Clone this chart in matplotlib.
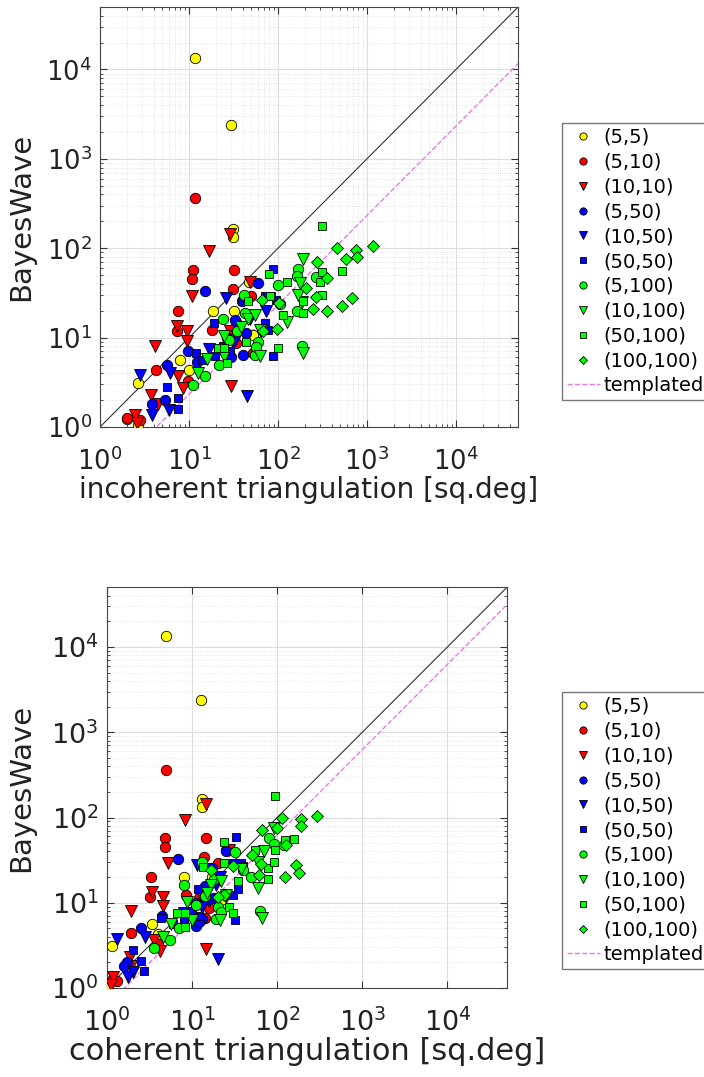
import numpy as np
import matplotlib
matplotlib.use("Agg")
import matplotlib.pyplot as plt

# series labels (SNR pairs) and marker styles
labels = ['(5,5)', '(5,10)', '(10,10)', '(5,50)', '(10,50)', '(50,50)',
          '(5,100)', '(10,100)', '(50,100)', '(100,100)']
colors = ['#ffff00', '#ff0000', '#ff0000', '#0000ff', '#0000ff', '#0000ff',
          '#00ff00', '#00ff00', '#00ff00', '#00ff00']
markers = ['o', 'o', 'v', 'o', 'v', 's', 'o', 'v', 's', 'D']

# BayesWave area, incoherent and coherent triangulation areas [sq.deg]
bw_55 = [13500, 2400, 163, 133, 20, 20, 42, 5.6, 4.3, 3.1, 1.23, 1.05, 10.8, 11.7]
inc_55 = [11.7, 29.6, 31, 31, 18.6, 32, 47, 7.9, 10, 2.7, 2.0, 2.65, 52, 33]
coh_55 = [5.0, 12.6, 13.2, 13.2, 8.0, 17, 25, 3.4, 4.0, 1.14, 1.2, 1.03, 22, 15]

bw_510 = [363, 57, 45, 57, 34.7, 20, 11.8, 12.3, 29, 14.9, 4.4, 3.3, 6.7, 1.25, 1.2, 11.3, 8.7]
inc_510 = [11.7, 11, 10.7, 32, 31.5, 7.5, 7.4, 18, 50, 34, 4.3, 9.7, 53, 2.0, 2.8, 29, 34]
coh_510 = [5.0, 4.8, 4.8, 14.4, 13.7, 3.3, 3.2, 8.5, 20, 14, 1.9, 4.0, 14, 1.14, 1.3, 12, 16]

bw_1010 = [144, 93, 29, 42, 13.4, 11.8, 9.1, 8.0, 3.7, 2.7, 2.3, 1.8, 2.9, 1.36, 1.1, 11.8]
inc_1010 = [29, 17, 10.7, 49, 7.3, 9.4, 9.4, 4.1, 7.6, 8.5, 3.7, 4.5, 30, 2.5, 2.6, 29]
coh_1010 = [14.4, 8.2, 5.2, 27.5, 3.4, 4.6, 4.5, 1.9, 3.6, 4.2, 1.86, 1.9, 14.4, 1.19, 1.12, 13]

bw_550 = [33, 41, 7.0, 5.0, 2.0, 1.8, 25.6, 15.9, 11.3, 6.4, 5.4, 7.5, 6.0, 10]
inc_550 = [15, 60, 9.7, 5.6, 5.4, 3.8, 39, 33, 44, 41, 12.2, 22, 30, 27]
coh_550 = [6.8, 25, 4.4, 2.5, 1.7, 1.6, 17, 14, 18, 13, 11.2, 9, 12, 11]

bw_1050 = [28, 20, 3.8, 4.0, 1.55, 1.36, 2.2, 7.5, 10.5, 9, 16]
inc_1050 = [26, 73, 2.8, 6.1, 5.9, 3.8, 45, 17, 35, 32, 48]
coh_1050 = [11.4, 21, 1.3, 2.8, 2.0, 1.78, 20, 8, 16, 13, 19]

bw_5050 = [59, 29, 29, 14.6, 26, 6.7, 2.8, 2.1, 1.6, 6.3, 7.0, 12.3, 14.6, 5.6, 6.2, 26.7, 8, 12.5]
inc_5050 = [89, 71, 84, 19, 39, 12, 5.6, 7.5, 7.5, 89, 29, 78, 71, 14, 19.6, 96, 24, 35]
coh_5050 = [33, 30, 38, 11.7, 16, 4.3, 2.0, 2.5, 2.7, 32, 12, 30.6, 34.5, 6, 8, 40, 10, 14]

bw_5100 = [39, 30, 16, 19, 8.9, 5.0, 3.7, 2.96, 58, 49, 20, 8.0, 6.4, 48, 24, 12, 7.8, 9.5]
inc_5100 = [100, 42, 24, 43, 60, 22, 15, 11.2, 170, 162, 162, 188, 55, 270, 106, 35, 57, 28]
coh_5100 = [31.5, 13, 8, 18, 20, 7.1, 5.5, 3.6, 80, 92, 49, 62, 19, 120, 40, 14, 22, 11]

bw_10100 = [75, 41, 25, 15, 16, 6.3, 6.7, 10.3, 5.7, 4.0, 11.8, 30, 12.3, 6.2, 13, 18]
inc_10100 = [192, 177, 185, 128, 46, 63, 192, 25, 16, 12.7, 65, 170, 63, 25, 38, 55]
coh_10100 = [92, 70, 37.6, 59, 16.7, 21, 67, 8.6, 5.7, 4.5, 25, 60, 25, 10, 15, 22]

bw_50100 = [178, 52, 42, 54, 56, 29, 26, 25.6, 30, 19, 18, 8.9, 7.6, 7.6, 5.2, 7.6, 42]
inc_50100 = [316, 79, 125, 310, 520, 81, 46, 193, 310, 193, 115, 44, 21.4, 25, 27, 100, 300]
coh_50100 = [94, 23.5, 55, 124, 158, 24, 13.4, 78, 92, 78, 34.5, 27, 6.6, 8.3, 8.2, 30, 95]

bw_100100 = [100, 95, 105, 75, 79, 71, 47, 36, 27.5, 22.5, 20, 21, 28.6, 12.5, 24.5, 26.7, 11.8]
inc_100100 = [457, 760, 1175, 575, 778, 277, 353, 205, 675, 527, 353, 245, 270, 98, 103, 66, 68]
coh_100100 = [113, 192, 297, 100, 192, 67, 126, 51, 165, 178, 123, 61, 65, 24, 16.7, 30, 20]

bw = [bw_55, bw_510, bw_1010, bw_550, bw_1050, bw_5050, bw_5100, bw_10100, bw_50100, bw_100100]
inc = [inc_55, inc_510, inc_1010, inc_550, inc_1050, inc_5050, inc_5100, inc_10100, inc_50100, inc_100100]
coh = [coh_55, coh_510, coh_1010, coh_550, coh_1050, coh_5050, coh_5100, coh_10100, coh_50100, coh_100100]

# templated bias factors for the dashed lines
templ_inc = 4.3
templ_coh = 1.6

lims = [1, 5e4]
msize = {'o': 7.5, 'v': 8, 's': 6, 'D': 6}

fig = plt.figure(figsize=(7.04, 10.77), dpi=100)


def panel(rect, xs, xlabel, factor, leg_y, tick_fs, lab_fs, ylab_x):
    ax = fig.add_axes(rect)
    line = np.array(lims)
    ax.plot(line, line, color='#333333', lw=0.8, zorder=2)
    for i in range(len(labels)):
        ax.plot(xs[i], bw[i], linestyle='none', marker=markers[i], color=colors[i],
                markeredgecolor='k', markeredgewidth=0.6, ms=msize[markers[i]],
                label=labels[i], zorder=3)
    ax.plot(line, line / factor, '--', color='#ee77ee', lw=1.0, zorder=2, label='templated')
    ax.set_xscale('log')
    ax.set_yscale('log')
    ax.set_xlim(lims)
    ax.set_ylim(lims)
    ax.set_xticks([1, 10, 100, 1000, 10000])
    ax.set_yticks([1, 10, 100, 1000, 10000])
    ax.grid(True, which='major', color='#dddddd', lw=0.8)
    ax.grid(True, which='minor', color='#dddddd', lw=0.6, ls=':')
    ax.set_axisbelow(True)
    ax.tick_params(which='both', direction='in', top=True, right=True,
                   labelsize=tick_fs, colors='#333333', labelcolor='#222222')
    ax.tick_params(which='major', length=5)
    ax.tick_params(which='minor', length=2.5)
    ax.tick_params(axis='x', which='major', pad=15)
    ax.tick_params(axis='y', which='major', pad=6)
    for s in ax.spines.values():
        s.set_color('#444444')
        s.set_linewidth(0.8)
    ax.set_xlabel(xlabel, fontsize=lab_fs, color='#222222', labelpad=0)
    ax.set_ylabel('BayesWave', fontsize=21, color='#222222')
    ax.yaxis.set_label_coords(ylab_x, 0.5)
    fig.legend(*ax.get_legend_handles_labels(), loc='upper left',
               bbox_to_anchor=(562 / 704, leg_y), fontsize=14,
               fancybox=False, framealpha=1, edgecolor='#777777',
               markerscale=0.7, handlelength=1.7, handletextpad=0.2,
               labelspacing=0.3, borderpad=0.25, borderaxespad=0)
    return ax


panel([0.142, 0.6035, 0.594, 0.390], inc, 'incoherent triangulation [sq.deg]',
      templ_inc, 1 - 123 / 1077, 18.5, 20, -0.155)
panel([0.152, 0.0826, 0.568, 0.372], coh, 'coherent triangulation [sq.deg]',
      templ_coh, 1 - 692 / 1077, 19.5, 22, -0.18)

fig.savefig('out.png', dpi=100)
